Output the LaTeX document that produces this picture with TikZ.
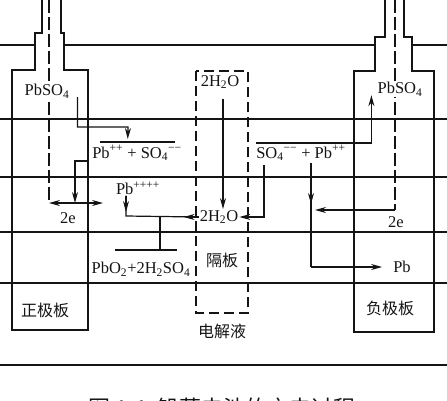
\documentclass[tikz,border=0pt]{standalone}
\usepackage{fontspec}
\setmainfont{Liberation Serif}
\newfontfamily\cjk{Noto Sans CJK SC}
\usetikzlibrary{arrows.meta, calc}
\definecolor{inkline}{RGB}{20, 20, 20}
\newcommand{\chemsize}{\fontsize{16.5}{19}\selectfont}
\newcommand{\cnsize}{\fontsize{16}{18}\selectfont}
\tikzset{
    level/.style={draw=inkline, line width=1.1pt},
    electrode/.style={draw=inkline, line width=2.6pt, line join=miter},
    axisdash/.style={draw=inkline, line width=1.2pt, dash pattern=on 13pt off 4pt},
    sepbox/.style={draw=inkline, line width=1.2pt, dash pattern=on 10pt off 5pt},
    link/.style={draw=inkline, line width=1.2pt},
    flow/.style={link, -{Stealth[length=11pt, width=6pt]}},
    chem/.style={font=\chemsize, inner sep=1pt, text=inkline},
    chembox/.style={chem, fill=white},
    cnlabel/.style={font=\cjk\cnsize, inner sep=1pt, text=inkline},
}
\begin{document}
\begin{tikzpicture}[x=1pt, y=-1pt]
    \useasboundingbox (0,0) rectangle (447,400);
    \clip (0,0) rectangle (447,400);

    % electrolyte levels
    \foreach \yy in {45, 119, 177, 232, 283}
        \draw[level] (0,\yy) -- (447,\yy);
    \draw[draw=inkline, line width=2.4pt] (0,365) -- (447,365);

    % positive plate
    \fill[white] (35,33) rectangle (64,70);
    \draw[electrode] (42,-3) -- (42,33) -- (35,33) -- (35,70) -- (12,70) -- (12,330)
        -- (88,330) -- (88,70) -- (64,70) -- (64,33) -- (61,33) -- (61,-3);
    % negative plate
    \fill[white] (375,37) rectangle (412,71);
    \draw[electrode] (385,-3) -- (385,37) -- (375,37) -- (375,71) -- (354,71) -- (354,332)
        -- (434,332) -- (434,71) -- (412,71) -- (412,37) -- (404,37) -- (404,-3);

    % plate axes
    \coordinate (axL) at (49,203);
    \coordinate (axR) at (395,210);
    \draw[axisdash] (49,0) -- (axL);
    \draw[axisdash] (395,0) -- (axR);

    % separator
    \draw[sepbox] (196,71) rectangle (248,313);

    % labels
    \node[chembox] (pbso4L) at (47,91) {PbSO\textsubscript{4}};
    \node[chembox] (pbso4R) at (400,89) {PbSO\textsubscript{4}};
    \node[chem] (h2oT) at (220,82) {2H\textsubscript{2}O};
    \node[chem] (pb2L) at (137,153) {Pb\textsuperscript{++} + SO\textsubscript{4}\textsuperscript{−−}};
    \node[chem] (pb4) at (138,188) {Pb\textsuperscript{++++}};
    \node[chem] (h2oM) at (219,217) {2H\textsubscript{2}O};
    \node[chem] (pb2R) at (301,153) {SO\textsubscript{4}\textsuperscript{−−} + Pb\textsuperscript{++}};
    \node[chem] (eL) at (68,218) {2e};
    \node[chem] (eR) at (396,222) {2e};
    \node[chem] (pbR) at (402,267) {Pb};
    \node[chem] (pbo2) at (141,269) {PbO\textsubscript{2}+2H\textsubscript{2}SO\textsubscript{4}};
    \node[cnlabel] (sep) at (222,260) {隔板};
    \node[cnlabel] (elyte) at (222,331) {电解液};
    \node[cnlabel] (posL) at (45,310) {正极板};
    \node[cnlabel] (negL) at (390,308) {负极板};
    \node[font=\cjk\fontsize{22}{24}\selectfont, anchor=base, text=inkline] (cap) at (222,416) {图 1-1\ \ 铅蓄电池的充电过程};

    % positive side
    \coordinate (ovLa) at (100,142);
    \coordinate (ovLb) at (175,142);
    \draw[link] (ovLa) -- (ovLb);
    \draw[flow] ($(pbso4L.east)+(7,6)$) |- (128,127) -- ($(ovLa)!0.37!(ovLb)+(0,-3)$);
    \coordinate (jL) at (75,203);
    \coordinate (endL) at (103,203);
    \draw[flow] ($(pb2L.west)+(-2,8)$) -| (jL);
    \draw[flow] (jL) -- (axL);
    \draw[flow] (jL) -- (endL);

    % water to positive plate
    \coordinate (cnA) at (126,216);
    \draw[link] (pb4.south -| cnA) -- (cnA) -- (h2oM.west);
    \draw[flow] (pb4.south -| cnA) -- ($(cnA)+(0,-4)$);
    \draw[flow] (h2oM.west) -- ($(h2oM.west)+(-15,0)$);
    \coordinate (stemB) at (160,250);
    \draw[link] (stemB |- cnA) -- (stemB);
    \draw[link] ($(stemB)+(-45,0)$) -- ($(stemB)+(17,0)$);
    \draw[flow] ($(h2oT.south)+(3,9)$) -- ($(h2oM.north)+(4,0)$);

    % negative side
    \coordinate (ovR) at (256,143);
    \draw[flow] (ovR) -| ($(pbso4R.south west)+(-5,-2)$);
    \coordinate (so4dn) at (264,165);
    \draw[flow] (so4dn) |- (h2oM.east);
    \coordinate (pbdn) at (311,163);
    \coordinate (cnB) at (311,267);
    \draw[link] (pbdn) -- (cnB);
    \draw[flow] (pbdn) -- ($(pbdn)+(0,41)$);
    \draw[flow] (cnB) -- ($(pbR.west)+(-10,0)$);
    \draw[flow] (axR) -- ($(axR)+(-80,0)$);
\end{tikzpicture}
\end{document}
